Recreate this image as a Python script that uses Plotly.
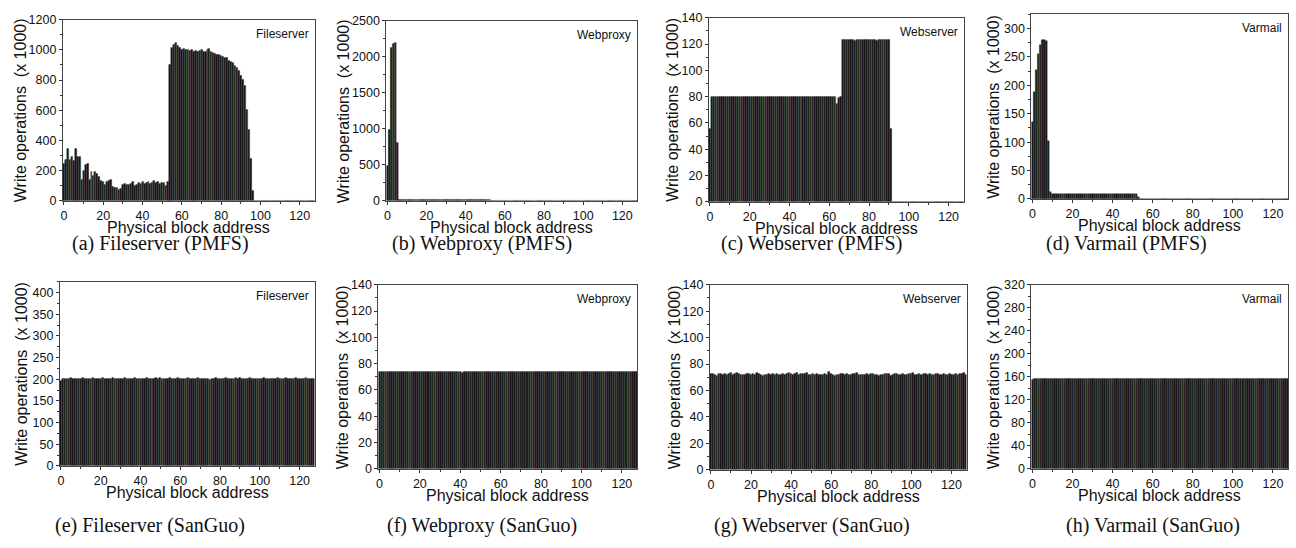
import plotly.graph_objects as go

W, H = 1296, 548

blocks = list(range(128))

# ---------------- data (x 1000 write operations per physical block) ----------------
fileserver_pmfs = [
    245, 270, 345, 270, 295, 265, 345, 290, 290, 140,
    200, 240, 245, 140, 195, 170, 195, 180, 160, 135,
    125, 110, 130, 135, 140, 95, 85, 90, 75, 80,
    110, 115, 110, 105, 115, 125, 100, 110, 120, 115,
    125, 115, 120, 125, 115, 120, 135, 120, 125, 115,
    120, 120, 100, 125, 900, 1015, 1035, 1045, 1025, 1015,
    1000, 1008, 1000, 1004, 995, 1000, 990, 995, 985, 995,
    1004, 985, 990, 1004, 1008, 985, 980, 975, 970, 965,
    961, 955, 950, 946, 929, 925, 914, 893, 882, 860,
    828, 806, 763, 602, 473, 280, 65, 0, 0, 0,
    0, 0, 0, 0, 0, 0, 0, 0, 0, 0,
    0, 0, 0, 0, 0, 0, 0, 0, 0, 0,
    0, 0, 0, 0, 0, 0, 0, 0,
]

webproxy_pmfs = [
    490, 985, 2130, 2185, 2195, 815, 15, 15, 15, 15,
    15, 15, 15, 15, 15, 15, 15, 15, 15, 15,
    15, 15, 15, 15, 15, 15, 15, 15, 15, 15,
    15, 15, 15, 15, 15, 15, 15, 15, 15, 15,
    15, 15, 15, 15, 15, 15, 15, 15, 15, 15,
    15, 15, 15, 0, 0, 0, 0, 0, 0, 0,
    0, 0, 0, 0, 0, 0, 0, 0, 0, 0,
    0, 0, 0, 0, 0, 0, 0, 0, 0, 0,
    0, 0, 0, 0, 0, 0, 0, 0, 0, 0,
    0, 0, 0, 0, 0, 0, 0, 0, 0, 0,
    0, 0, 0, 0, 0, 0, 0, 0, 0, 0,
    0, 0, 0, 0, 0, 0, 0, 0, 0, 0,
    0, 0, 0, 0, 0, 0, 0, 0,
]

webserver_pmfs = [
    56, 80, 80, 80, 80, 80, 80, 80, 80, 80,
    80, 80, 80, 80, 80, 80, 80, 80, 80, 80,
    80, 80, 80, 80, 80, 80, 80, 80, 80, 80,
    80, 80, 80, 80, 80, 80, 80, 80, 80, 80,
    80, 80, 80, 80, 80, 80, 80, 80, 80, 80,
    80, 80, 80, 80, 80, 80, 80, 80, 80, 80,
    80, 80, 80, 80, 75, 79, 80, 123, 123, 123,
    123.5, 123, 123, 122.5, 123, 123, 123.5, 123, 123, 123,
    123, 123.5, 123, 123, 122.5, 123, 123, 123.5, 123, 123,
    123, 56, 0, 0, 0, 0, 0, 0, 0, 0,
    0, 0, 0, 0, 0, 0, 0, 0, 0, 0,
    0, 0, 0, 0, 0, 0, 0, 0, 0, 0,
    0, 0, 0, 0, 0, 0, 0, 0,
]

varmail_pmfs = [
    135, 189, 228, 256, 272, 280, 281, 278, 103, 13,
    9, 9, 9, 9, 9, 9, 9, 9, 9, 9,
    9, 9, 9, 9, 9, 9, 9, 9, 9, 9,
    9, 9, 9, 9, 9, 9, 9, 9, 9, 9,
    9, 9, 9, 9, 9, 9, 9, 9, 9, 9,
    9, 9, 9, 3, 0, 0, 0, 0, 0, 0,
    0, 0, 0, 0, 0, 0, 0, 0, 0, 0,
    0, 0, 0, 0, 0, 0, 0, 0, 0, 0,
    0, 0, 0, 0, 0, 0, 0, 0, 0, 0,
    0, 0, 0, 0, 0, 0, 0, 0, 0, 0,
    0, 0, 0, 0, 0, 0, 0, 0, 0, 0,
    0, 0, 0, 0, 0, 0, 0, 0, 0, 0,
    0, 0, 0, 0, 0, 0, 0, 0,
]

fileserver_sanguo = [
    196, 201, 202, 201, 202, 203, 202, 201, 202, 202, 201, 203, 202, 202, 201, 202,
    203, 202, 201, 202, 202, 203, 202, 201, 202, 202, 203, 202, 201, 202, 201, 202,
    203, 202, 202, 201, 202, 203, 202, 201, 202, 202, 201, 203, 202, 202, 201, 202,
    203, 202, 204, 202, 201, 202, 202, 203, 202, 201, 202, 203, 202, 202, 201, 202,
    203, 202, 201, 202, 202, 203, 202, 202, 201, 202, 201, 200, 202, 202, 203, 202,
    201, 202, 202, 203, 202, 201, 202, 202, 203, 202, 203, 202, 201, 202, 202, 203,
    202, 201, 202, 202, 201, 202, 203, 202, 201, 202, 202, 201, 202, 203, 202, 201,
    202, 203, 202, 202, 201, 202, 203, 202, 201, 202, 202, 203, 202, 201, 202, 201,
]

webproxy_sanguo = [
    73.5, 73.8, 73.6, 73.9, 73.5, 74.0, 73.7, 73.6, 73.8, 73.5, 73.9, 73.6, 73.7, 73.8, 73.5, 73.9,
    73.6, 73.7, 73.9, 73.5, 73.8, 73.6, 73.7, 74.0, 73.6, 73.8, 73.5, 73.7, 73.9, 73.6, 73.8, 73.5,
    73.7, 73.9, 73.6, 73.8, 73.5, 73.7, 74.0, 73.6, 73.8, 73.2, 73.6, 73.7, 73.9, 73.5, 73.8, 73.6,
    73.7, 73.5, 73.8, 73.6, 73.9, 73.7, 73.5, 73.8, 73.6, 73.7, 73.9, 73.5, 73.8, 73.6, 73.7, 73.9,
    73.6, 73.8, 73.5, 73.7, 73.9, 73.6, 73.8, 73.5, 73.7, 74.0, 73.6, 73.8, 73.5, 73.7, 73.9, 73.6,
    73.8, 73.5, 73.7, 73.9, 73.6, 73.8, 73.5, 73.7, 73.9, 73.6, 73.8, 73.5, 73.7, 73.9, 73.6, 73.8,
    73.5, 73.7, 73.9, 73.6, 73.8, 73.5, 73.7, 73.9, 73.6, 73.8, 73.5, 73.7, 73.9, 73.6, 73.8, 73.5,
    73.7, 73.9, 73.6, 73.8, 73.5, 73.7, 73.9, 73.6, 73.8, 73.5, 73.7, 73.9, 73.6, 73.8, 73.5, 73.7,
]

webserver_sanguo = [
    72.5, 72.8, 72.0, 71.5, 72.6, 73.0, 72.2, 72.8, 71.8, 72.5, 73.2, 72.0, 72.6, 73.1, 72.4, 71.9,
    72.3, 72.0, 72.7, 72.9, 72.1, 72.6, 72.3, 73.8, 72.9, 72.2, 71.4, 71.8, 72.1, 72.5, 71.9, 72.6,
    72.0, 72.8, 72.3, 71.9, 72.5, 72.2, 72.9, 73.6, 72.4, 72.1, 72.7, 73.2, 72.0, 72.6, 73.0, 72.4,
    73.1, 72.2, 71.8, 72.5, 72.1, 72.6, 72.0, 71.6, 72.3, 72.9, 71.9, 74.5, 72.8, 72.2, 71.5, 72.0,
    71.8, 72.4, 73.0, 72.1, 72.6, 72.2, 71.9, 72.5, 72.8, 73.4, 72.3, 72.0, 71.8, 72.2, 72.5, 71.9,
    72.6, 72.9, 72.1, 71.7, 71.5, 71.8, 72.0, 72.4, 73.0, 72.5, 71.4, 72.1, 72.6, 72.9, 72.2, 71.7,
    72.8, 72.3, 72.0, 72.5, 72.7, 73.3, 72.1, 71.9, 72.4, 72.0, 72.6, 73.0, 72.3, 72.5, 72.2, 72.0,
    72.4, 72.7, 71.8, 72.2, 72.6, 71.9, 72.3, 72.8, 72.1, 71.7, 72.5, 72.0, 72.4, 72.9, 73.6, 72.2,
]

varmail_sanguo = [
    155, 157, 157, 156.5, 157, 157, 157.5, 157, 156.5, 157, 157, 157, 157.5, 157, 157, 156.5,
    157, 157.5, 157, 157, 156.5, 157, 157, 157.5, 157, 157, 156.5, 157, 157, 157.5, 157, 157,
    156.5, 157, 157.5, 157, 157, 157, 156.5, 157, 157.5, 157, 157, 156.5, 157, 157, 157.5, 157,
    157, 156.5, 157, 157.5, 157, 157, 156.5, 157, 157, 157.5, 157, 157, 156.5, 157, 157, 157.5,
    157, 157, 156.5, 157, 157.5, 157, 157, 156.5, 157, 157, 157.5, 157, 157, 156.5, 157, 157,
    157.5, 157, 157, 156.5, 157, 157, 157.5, 157, 157, 156.5, 157, 157, 157.5, 157, 157, 156.5,
    157, 157, 157.5, 157, 157, 156.5, 157, 157, 157.5, 157, 157, 156.5, 157, 157, 157.5, 157,
    157, 156.5, 157, 157, 157.5, 157, 157, 156.5, 157, 157, 157.5, 157, 157, 156.5, 157, 157,
]

series = [fileserver_pmfs, webproxy_pmfs, webserver_pmfs, varmail_pmfs,
          fileserver_sanguo, webproxy_sanguo, webserver_sanguo, varmail_sanguo]
labels = ["Fileserver", "Webproxy", "Webserver", "Varmail",
          "Fileserver", "Webproxy", "Webserver", "Varmail"]
captions = ["(a) Fileserver (PMFS)", "(b) Webproxy (PMFS)", "(c) Webserver (PMFS)", "(d) Varmail (PMFS)",
            "(e) Fileserver (SanGuo)", "(f) Webproxy (SanGuo)", "(g) Webserver (SanGuo)", "(h) Varmail (SanGuo)"]
y_max = [1200, 2500, 140, 326, 425, 140, 140, 320]
y_dtick = [200, 500, 20, 50, 50, 20, 20, 40]
x_ticks = [0, 20, 40, 60, 80, 100, 120]

# ---------------- style / layout ----------------
boxes = [(61, 313, 13, 199), (385, 636, 14, 199), (708, 963, 11, 200), (1031, 1288, 7, 197),
         (58, 313, 282, 471), (377, 636, 285, 474), (709, 966, 285, 475), (1031, 1288, 285, 474)]
ytitle_off = [43, 43, 36, 38, 38, 36, 36, 38]
cap_x = [159, 481, 811, 1126, 148, 481, 811, 1153]
cap_y = [243, 243, 243, 243, 532, 532, 532, 532]

FILLS = ["#1c1012", "#121a22", "#121e18", "#26241a", "#222222", "#1e1420",
         "#161616", "#1c1616", "#121c24", "#202020", "#1c1e12", "#141418"]
LINES = ["#6a2230", "#28506a", "#285a40", "#6e6228", "#585858", "#5e2858",
         "#2a2a2a", "#4a2828", "#285866", "#4c4c4c", "#505028", "#30304a"]

SANS = "Liberation Sans, Arial, sans-serif"
SERIF = "Liberation Serif, Times New Roman, serif"
TICK_FONT = dict(size=12.5, family=SANS, color="#111")

fig = go.Figure()
layout = dict(width=W, height=H, margin=dict(l=0, r=0, t=0, b=0),
              paper_bgcolor="white", plot_bgcolor="white", showlegend=False,
              bargap=0, font=dict(family=SANS, color="#111"))
annotations = []

for i, vals in enumerate(series):
    k = i + 1
    xa = "xaxis" if k == 1 else f"xaxis{k}"
    ya = "yaxis" if k == 1 else f"yaxis{k}"
    l, r, t, b = boxes[i]
    fig.add_trace(go.Bar(
        x=blocks, y=vals, xaxis=f"x{k}", yaxis=f"y{k}", width=1.0,
        marker=dict(color=[FILLS[j % len(FILLS)] for j in blocks],
                    line=dict(color=[LINES[j % len(LINES)] for j in blocks], width=0.35)),
    ))
    layout[xa] = dict(domain=[l / W, r / W], anchor=f"y{k}", range=[-0.5, 127.5],
                      tickmode="array", tickvals=x_ticks, ticks="outside", ticklen=3,
                      tickcolor="#333", showline=True, linecolor="#444", linewidth=1,
                      mirror=True, showgrid=False, zeroline=False, tickfont=TICK_FONT,
                      minor=dict(tickmode="linear", tick0=0, dtick=10, ticks="outside",
                                 ticklen=2, tickcolor="#333"))
    layout[ya] = dict(domain=[1 - b / H, 1 - t / H], anchor=f"x{k}", range=[0, y_max[i]],
                      tick0=0, dtick=y_dtick[i], ticks="outside", ticklen=3, tickcolor="#333",
                      showline=True, linecolor="#444", linewidth=1, mirror=True,
                      showgrid=False, zeroline=False, tickfont=TICK_FONT,
                      minor=dict(tick0=0, dtick=y_dtick[i] / 2, ticks="outside",
                                 ticklen=2, tickcolor="#333"))
    # y title
    annotations.append(dict(text="Write operations  (x 1000)", textangle=-90,
                            x=(l - ytitle_off[i]) / W, y=1 - ((t + b) / 2) / H,
                            xref="paper", yref="paper", showarrow=False,
                            xanchor="center", yanchor="middle",
                            font=dict(size=16, family=SANS, color="#111")))
    # x title
    annotations.append(dict(text="Physical block address",
                            x=((l + r) / 2) / W, y=1 - (b + 27) / H,
                            xref="paper", yref="paper", showarrow=False,
                            xanchor="center", yanchor="middle",
                            font=dict(size=16, family=SANS, color="#111")))
    # in-plot label
    annotations.append(dict(text=labels[i], x=(r - 4) / W, y=1 - (t + 15) / H,
                            xref="paper", yref="paper", showarrow=False,
                            xanchor="right", yanchor="middle",
                            font=dict(size=12, family=SANS, color="#111")))
    # caption
    annotations.append(dict(text=captions[i], x=cap_x[i] / W, y=1 - cap_y[i] / H,
                            xref="paper", yref="paper", showarrow=False,
                            xanchor="center", yanchor="middle",
                            font=dict(size=20, family=SERIF, color="#111")))

layout["annotations"] = annotations
fig.update_layout(**layout)
fig.write_html(
    "out.html",
    config={"displayModeBar": False},
    post_script="document.body.style.margin='0px';document.body.style.overflow='hidden';",
)
